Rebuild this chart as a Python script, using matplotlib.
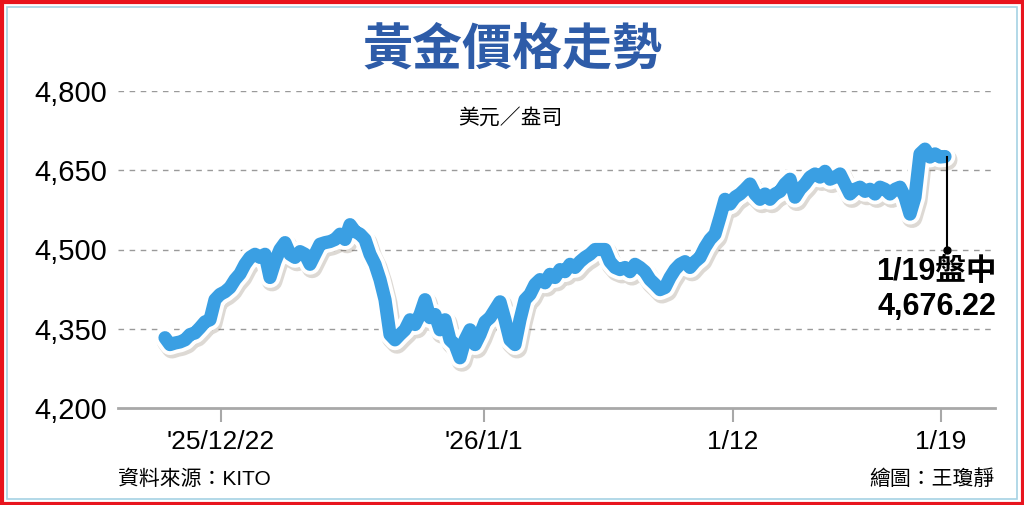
import numpy as np
import matplotlib
matplotlib.use('Agg')
import matplotlib.pyplot as plt
import matplotlib.patheffects as pe
from matplotlib.patches import Rectangle

plt.rcParams['font.family'] = ['Liberation Sans', 'Noto Sans CJK TC']

# gold price, sampled at even steps along the time axis (USD / oz)
prices = [
    4333, 4320, 4323, 4325, 4329, 4339, 4342, 4352, 4363, 4367,
    4405, 4415, 4420, 4428, 4443, 4454, 4472, 4485, 4491, 4485,
    4491, 4447, 4477, 4500, 4513, 4491, 4485, 4496, 4491, 4472,
    4491, 4510, 4513, 4515, 4519, 4529, 4519, 4547, 4534, 4529,
    4519, 4491, 4472, 4443, 4405, 4339, 4329, 4339, 4348, 4367,
    4358, 4377, 4405, 4371, 4377, 4348, 4367, 4329, 4320, 4295,
    4329, 4348, 4320, 4339, 4363, 4371, 4386, 4401, 4367, 4329,
    4320, 4367, 4405, 4415, 4434, 4443, 4437, 4453, 4447, 4462,
    4458, 4472, 4466, 4477, 4485, 4491, 4500, 4500, 4500, 4477,
    4466, 4462, 4466, 4458, 4472, 4466, 4458, 4443, 4434, 4424,
    4428, 4447, 4462, 4472, 4477, 4466, 4477, 4485, 4504, 4519,
    4529, 4561, 4595, 4586, 4599, 4605, 4614, 4624, 4605, 4595,
    4605, 4595, 4605, 4610, 4624, 4633, 4599, 4614, 4624, 4637,
    4643, 4637, 4648, 4633, 4637, 4643, 4624, 4605, 4614, 4618,
    4610, 4614, 4605, 4618, 4614, 4605, 4614, 4618, 4599, 4567,
    4599, 4681, 4690, 4675, 4681, 4675, 4676,
]
tick_pos = [11.2, 63.8, 113.6, 155.2]
tick_labels = ["'25/12/22", "'26/1/1", "1/12", "1/19"]
y_ticks = [4200, 4350, 4500, 4650, 4800]
last_label = "1/19盤中"
last_value = "4,676.22"

x = np.arange(len(prices))

W, H = 1024, 505
fig = plt.figure(figsize=(W / 100, H / 100), dpi=100)
fig.patch.set_facecolor('white')

ax = fig.add_axes([118 / W, (H - 408) / H, (995 - 118) / W, (408 - 91) / H])
ax.set_xlim(-9.4, 166)
ax.set_ylim(4200, 4800)
ax.set_facecolor('none')
for s in ['top', 'right', 'left']:
    ax.spines[s].set_visible(False)
ax.spines['bottom'].set_color('#a8a8a8')
ax.spines['bottom'].set_linewidth(2)

for v in y_ticks[1:]:
    ax.axhline(v, color='#9a9a9a', lw=1, ls=(0, (4, 4)), zorder=1)

ax.plot(x, prices, color='#3a9fe3', lw=9.5, solid_joinstyle='round',
        solid_capstyle='round', zorder=3,
        path_effects=[pe.SimpleLineShadow(offset=(1.5, -2.5), shadow_color='#7a6a55', alpha=0.25, linewidth=15),
                      pe.Stroke(linewidth=15, foreground='white'),
                      pe.Normal()])

ax.set_yticks(y_ticks)
ax.set_yticklabels([f'{v:,}' for v in y_ticks], fontsize=21)
ax.tick_params(axis='y', length=0, pad=8)
ax.set_xticks(tick_pos)
ax.set_xticklabels(tick_labels, fontsize=19)
ax.tick_params(axis='x', length=10, width=1.5, color='#a8a8a8', pad=6)

# end-of-series callout
x_end = x[-1] + 0.3
ax.plot([x_end, x_end], [prices[-1], 4500], color='black', lw=1.5, zorder=4)
ax.plot([x_end], [4500], 'o', color='black', ms=5, zorder=4)

fig.text(0.5, 1 - 50 / H, '黃金價格走勢', ha='center', va='center', fontsize=36,
         color='#2e5ca8', fontweight='bold', family=['Noto Sans CJK TC'])
fig.text(510 / W, 1 - 118 / H, '美元／盎司', ha='center', va='center', fontsize=15,
         family=['Noto Sans CJK TC'])
fig.text(996 / W, 1 - 272 / H, last_label, ha='right', va='center', fontsize=22,
         fontweight='bold')
fig.text(996 / W, 1 - 307 / H, last_value, ha='right', va='center', fontsize=22,
         fontweight='bold')
fig.text(118 / W, 1 - 479 / H, '資料來源：KITO', ha='left', va='center', fontsize=15)
fig.text(995 / W, 1 - 479 / H, '繪圖：王瓊靜', ha='right', va='center', fontsize=15)

# frame
fig.patches.append(Rectangle((1.5 / W, 1.5 / H), 1 - 3 / W, 1 - 3 / H, transform=fig.transFigure,
                             fill=False, ec='#e8141e', lw=3))
fig.patches.append(Rectangle((7 / W, 6 / H), 1 - 14 / W, 1 - 13 / H, transform=fig.transFigure,
                             fill=False, ec='#a6d2e4', lw=1.2))

fig.savefig('out.png', dpi=100)
